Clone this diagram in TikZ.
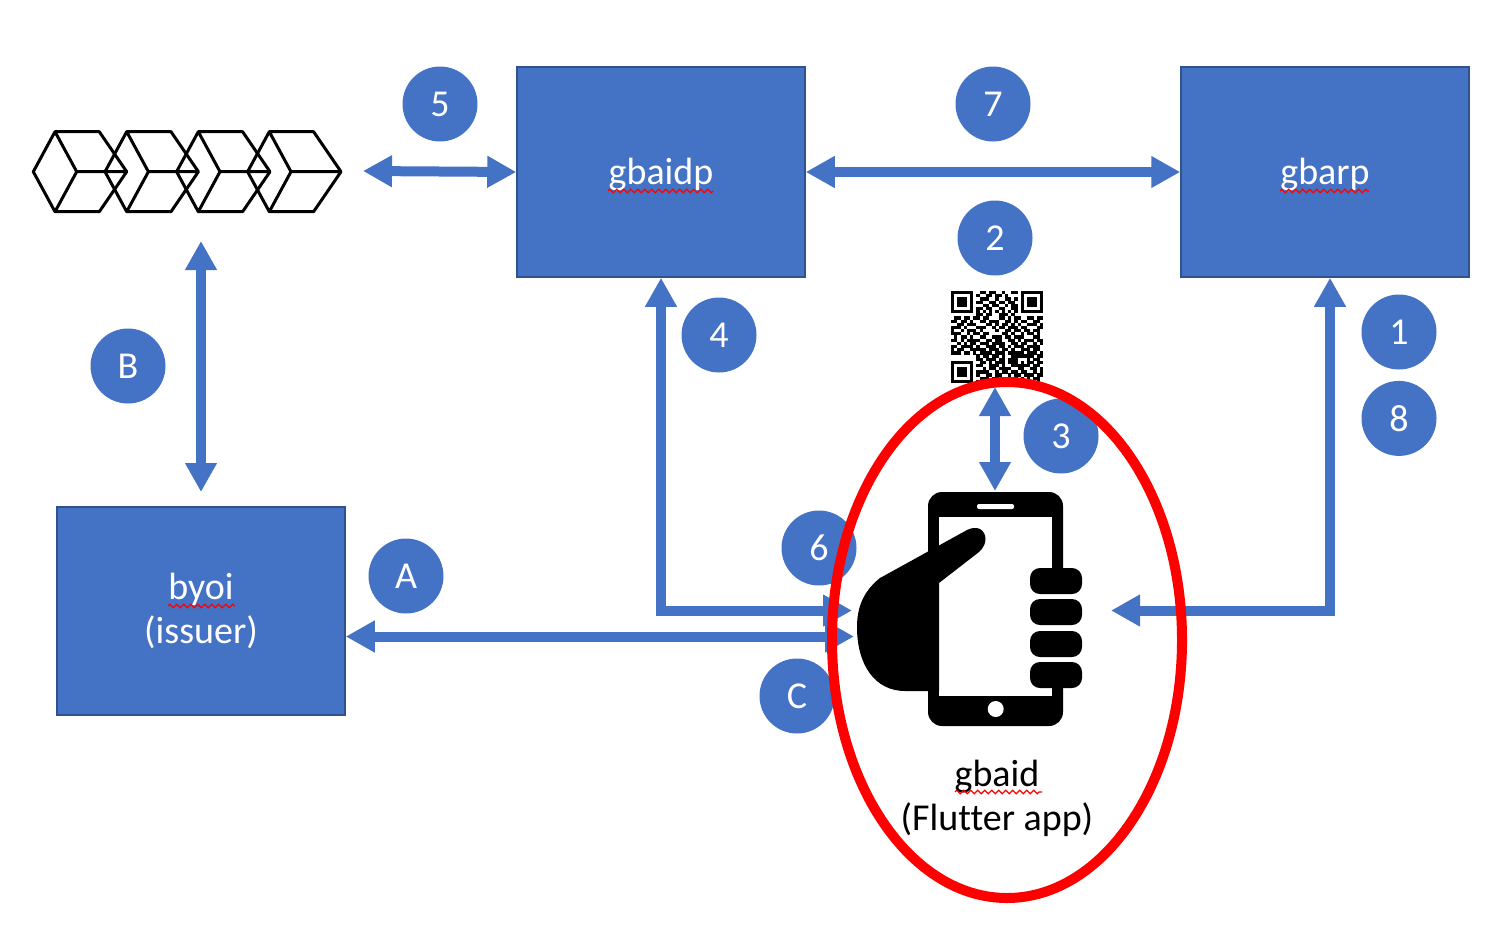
\documentclass[tikz,border=0pt]{standalone}
\usepackage{fontspec}
\usepackage{xstring}
\setmainfont[Ligatures=NoCommon]{Carlito}
\usetikzlibrary{positioning, arrows.meta, shapes.geometric, decorations.pathmorphing}
\definecolor{primary}{RGB}{68,114,196}
\definecolor{boxline}{RGB}{47,82,143}
\tikzset{
  box/.style={
    rectangle, draw=boxline, fill=primary, line width=1.5pt, minimum width=288pt, minimum height=210pt,
    align=center, text=white, font=\fontsize{38}{44}\selectfont
  },
  badge/.style={
    circle, fill=primary, minimum size=75pt, inner sep=0pt,
    text=white, font=\fontsize{38}{44}\selectfont
  },
  link/.style={
    draw=primary, line width=10pt,
    {Triangle[length=29pt,width=30pt]}-{Triangle[length=29pt,width=30pt]}
  },
  squiggle/.style={
    draw=red, line width=1.2pt, decorate, decoration={zigzag, amplitude=1.8pt, segment length=7pt}
  },
}

\begin{document}
\begin{tikzpicture}[x=1pt, y=-1pt]
  \useasboundingbox (0,0) rectangle (1490,932);

  % Services
  \node[box, text height=32pt] (gbaidp) at (661,172) {gbaidp};
  \node[box, text height=32pt, right=374.5pt of gbaidp] (gbarp) {gbarp};
  \node[box, minimum height=208pt] (byoi) at (201,611) {byoi\\(issuer)};

  % Numbered steps
  \node[badge] (n5) at (440,104) {5};
  \node[badge] (n7) at (993,104) {7};
  \node[badge] (n2) at (995,238) {2};
  \node[badge] (n4) at (719,335) {4};
  \node[badge] (n1) at (1399,332) {1};
  \node[badge, below=11pt of n1] (n8) {8};
  \node[badge] (n3) at (1061,436) {3};
  \node[badge] (n6) at (819,548) {6};
  \node[badge] (nB) at (128,366) {B};
  \node[badge] (nA) at (406,576) {A};
  \node[badge] (nC) at (797,696) {C};

  % Ledger blocks
  \foreach \dx in {0,71.7,143.3,214.3} {
    \draw[line width=3pt, line join=round]
      (33.3+\dx,171.7) -- (55+\dx,131.7) -- (99.3+\dx,131.7) -- (126.7+\dx,171.7)
      -- (99.3+\dx,211.7) -- (55+\dx,211.7) -- cycle
      (55+\dx,131.7) -- (76.7+\dx,171.7) -- (55+\dx,211.7)
      (76.7+\dx,171.7) -- (126.7+\dx,171.7);
  }

  % QR code
  \foreach \qrrow [count=\j] in {
    11111110011011001001101111111,
    10000010100110110100001000001,
    10111010011100100110101011101,
    10111010110011011011001011101,
    10111010001101100101101011101,
    10000010110110011001101000001,
    11111110101010101010101111111,
    00000000110110011101000000000,
    01101101101100011010110011011,
    11011010011011100110101100110,
    00110111000110101101010011101,
    11101000111001011011101100011,
    10010111010000100110110110110,
    11100101101100001101001011010,
    01011010011001110110111000110,
    11010111100110110011010111011,
    00101011011101111001101100101,
    11011110100111011010111011110,
    10110011111011101101001110110,
    11101101011110111011111011101,
    00000000101101101001111111011,
    00000000110111011011100010110,
    11111110011010111011101011011,
    10000010110011101001111110110,
    10111010001011011110011001101,
    10111010111100101101101100101,
    10111010100110110010110111011,
    10000010011101101100101010110,
    11111110110011011011011001010} {
    \foreach \i in {1,...,29} {
      \StrChar{\qrrow}{\i}[\qrbit]
      \ifnum\qrbit=1
        \fill (947.83+3.172*\i,287.83+3.172*\j) rectangle ++(3.25,3.25);
      \fi
    }
  }

  % Free ends
  \coordinate (chainE) at (363,171);
  \coordinate (chainS) at (201,241);
  \coordinate (byoiN) at (201,492);
  \coordinate (qrS) at (995,387);
  \coordinate (phoneN) at (995,491);
  \coordinate (phoneA) at (854,636.5);
  \coordinate (phone4) at (852,610.5);
  \coordinate (phone1) at (1111,610.5);

  % Connectors
  \draw[link] (chainE) -- (gbaidp.west);
  \draw[link] (gbaidp.east) -- (gbarp.west);
  \draw[link] (chainS) -- (byoiN);
  \draw[link] (qrS) -- (phoneN);
  \draw[link] ([yshift=-25.5pt]byoi.east) -- (phoneA);
  \draw[link] (gbaidp.south) |- (phone4);
  \draw[link] (phone1) -| ([xshift=5pt]gbarp.south);

  % Phone in hand
  \fill[rounded corners=14pt] (928,492) rectangle (1063,726);
  \fill[white] (939,517) rectangle (1052,696);
  \fill[white, rounded corners=2pt] (977,504) rectangle (1014,509);
  \fill[white] (995.7,709) circle (8);
  \fill[white] (1050,568) rectangle (1066,688);
  \fill (967,530) -- (880,578) .. controls (865,590) and (857,605) .. (857,627)
    .. controls (857,665) and (875,691) .. (905,691) -- (939,691) -- (939,583)
    -- (979,552) .. controls (988,544) and (987,533) .. (980,529)
    .. controls (976,527) and (971,528) .. (967,530) -- cycle;
  \foreach \fy in {568,599,631,662} {
    \fill[rounded corners=10pt] (1030,\fy) rectangle (1082,\fy+26);
  }

  \node[align=center, font=\fontsize{38}{44}\selectfont] (gbaid) at (997,798) {gbaid\\(Flutter app)};

  % Highlight
  \node[ellipse, draw=red, line width=10pt, minimum width=350pt, minimum height=516pt, inner sep=0pt] (focus) at (1007,640) {};

  % Spell check marks
  \draw[squiggle] (608,191) -- (713,191);
  \draw[squiggle] (1280,191) -- (1369,191);
  \draw[squiggle] (168,606) -- (235,606);
  \draw[squiggle] (955,792) -- (1042,792);
\end{tikzpicture}
\end{document}
